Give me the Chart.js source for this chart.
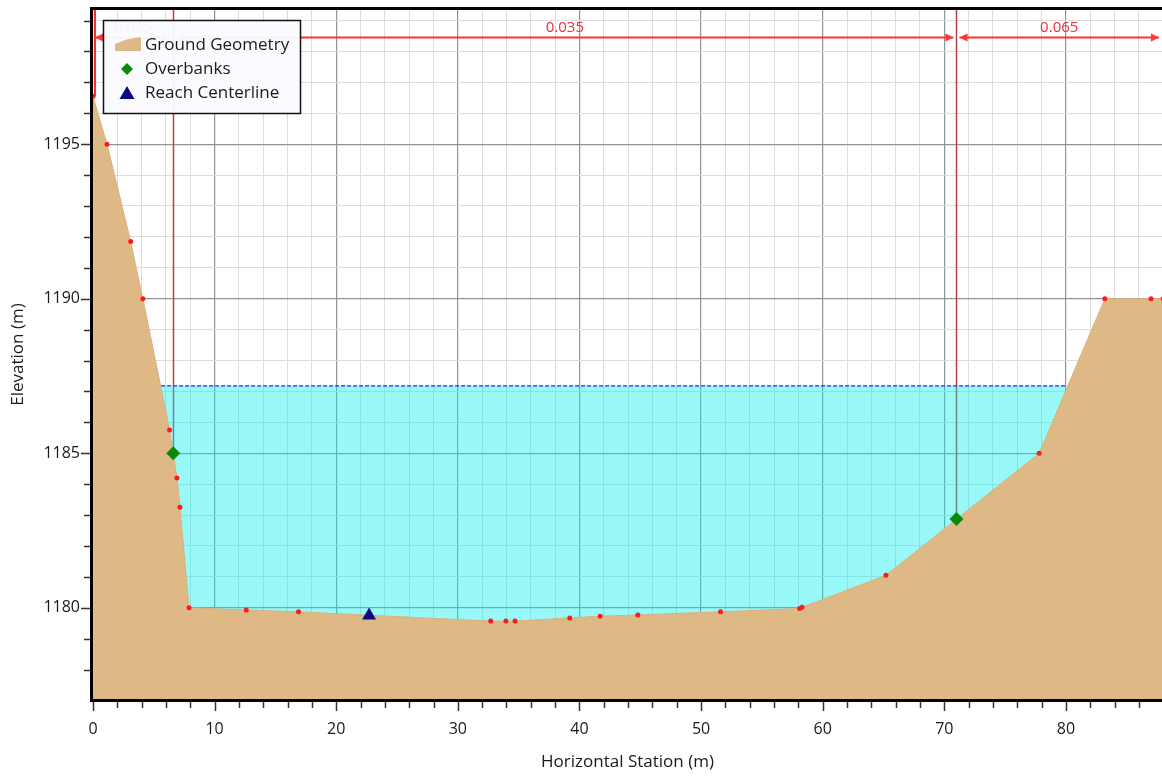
<!DOCTYPE html>
<html lang="en">
<head>
  <meta charset="UTF-8" />
  <title>Cross Section</title>
  <script src="https://cdn.jsdelivr.net/npm/chart.js"></script>
  <style>
    html, body { margin: 0; padding: 0; background: #fff; }
    #wrap { width: 1162px; height: 777px; }
  </style>
</head>
<body>
  <div id="wrap"><canvas id="xsChart" width="1162" height="777"></canvas></div>

<script>
  // ground survey points (station m, elevation m)
  const groundStations   = [0, 1.15, 3.1, 4.1, 6.3, 6.9, 7.15, 7.9, 12.6, 16.9, 32.7, 33.95, 34.7, 39.2, 41.7, 44.8, 51.6, 58.1, 58.3, 65.2, 77.8, 83.2, 87.0, 88.0];
  const groundElevations = [1196.55, 1195.0, 1191.85, 1190.0, 1185.75, 1184.2, 1183.25, 1180.0, 1179.93, 1179.87, 1179.57, 1179.57, 1179.57, 1179.67, 1179.73, 1179.77, 1179.87, 1179.98, 1180.02, 1181.05, 1185.0, 1190.0, 1190.0, 1190.0];

  const overbankStations   = [6.6, 71.0];
  const overbankElevations = [1185.0, 1182.87];

  const centerlineStation   = [22.7];
  const centerlineElevation = [1179.75];

  // water surface
  const waterStations   = [5.6, 80.0];
  const waterElevations = [1187.18, 1187.18];

  // Manning's n regions
  const nStations = [0, 6.6, 71.0, 88.0];
  const nValues   = ['0.035', '0.035', '0.065'];

  const xMin = 0, xMax = 87.9;
  const yMin = 1177.05, yMax = 1199.34;

  const toPts = (xs, ys) => xs.map((x, i) => ({ x: x, y: ys[i] }));

  function groundAt(s) {
    for (let i = 1; i < groundStations.length; i++) {
      if (s <= groundStations[i]) {
        const s0 = groundStations[i - 1], s1 = groundStations[i];
        const t = (s - s0) / (s1 - s0);
        return groundElevations[i - 1] + t * (groundElevations[i] - groundElevations[i - 1]);
      }
    }
    return groundElevations[groundElevations.length - 1];
  }

  Chart.defaults.font.family = "'Open Sans', sans-serif";
  Chart.defaults.font.size = 16;
  Chart.defaults.color = '#1a1a1a';

  const xsOverlay = {
    id: 'xsOverlay',
    beforeDatasetsDraw(chart) {
      const { ctx, chartArea, scales: { x, y } } = chart;
      ctx.save();
      // bank / n-value break lines
      for (let i = 0; i < nStations.length - 1; i++) {
        const px = Math.round(x.getPixelForValue(nStations[i])) + 0.5;
        const bottom = y.getPixelForValue(groundAt(nStations[i]));
        ctx.strokeStyle = i === 0 ? '#ff2a2a' : '#b84040';
        ctx.lineWidth = i === 0 ? 2 : 1.5;
        ctx.beginPath();
        ctx.moveTo(i === 0 ? px + 1.5 : px, chartArea.top);
        ctx.lineTo(i === 0 ? px + 1.5 : px, bottom);
        ctx.stroke();
      }
      ctx.restore();
    },
    afterDraw(chart) {
      const { ctx, chartArea, scales: { x, y } } = chart;
      ctx.save();

      // n-value arrows
      const ay = chartArea.top + 27.5;
      ctx.strokeStyle = '#ff3535';
      ctx.fillStyle = '#ff3535';
      ctx.lineWidth = 2;
      for (let i = 0; i < nValues.length; i++) {
        let x0 = x.getPixelForValue(nStations[i]) + (i === 0 ? 2 : 3);
        let x1 = Math.min(x.getPixelForValue(nStations[i + 1]), chartArea.right) - 3;
        ctx.beginPath();
        ctx.moveTo(x0, ay);
        ctx.lineTo(x1, ay);
        ctx.stroke();
        ctx.beginPath();
        ctx.moveTo(x0, ay); ctx.lineTo(x0 + 8, ay - 4); ctx.lineTo(x0 + 8, ay + 4); ctx.closePath();
        ctx.fill();
        ctx.beginPath();
        ctx.moveTo(x1, ay); ctx.lineTo(x1 - 8, ay - 4); ctx.lineTo(x1 - 8, ay + 4); ctx.closePath();
        ctx.fill();
      }
      ctx.font = "15px 'Open Sans', sans-serif";
      ctx.textAlign = 'center';
      ctx.textBaseline = 'middle';
      ctx.fillStyle = '#e8303a';
      for (let i = 0; i < nValues.length; i++) {
        const l = x.getPixelForValue(nStations[i]);
        const r = Math.min(x.getPixelForValue(nStations[i + 1]), chartArea.right);
        ctx.fillText(nValues[i], (l + r) / 2, ay - 10);
      }

      // frame
      ctx.strokeStyle = '#000';
      ctx.lineWidth = 3;
      ctx.beginPath();
      ctx.moveTo(chartArea.left - 1.5, chartArea.bottom + 3);
      ctx.lineTo(chartArea.left - 1.5, chartArea.top - 1.5);
      ctx.lineTo(chartArea.right, chartArea.top - 1.5);
      ctx.moveTo(chartArea.left - 3, chartArea.bottom + 1.5);
      ctx.lineTo(chartArea.right, chartArea.bottom + 1.5);
      ctx.stroke();

      // tick marks
      ctx.strokeStyle = '#333';
      ctx.lineWidth = 1.5;
      x.ticks.forEach(t => {
        const px = Math.round(x.getPixelForValue(t.value)) + 0.5;
        const len = t.value % 10 === 0 ? 9 : 6;
        ctx.beginPath();
        ctx.moveTo(px, chartArea.bottom + 3);
        ctx.lineTo(px, chartArea.bottom + 3 + len);
        ctx.stroke();
      });
      y.ticks.forEach(t => {
        const py = Math.round(y.getPixelForValue(t.value)) + 0.5;
        const len = Math.round(t.value) % 5 === 0 ? 9 : 6;
        ctx.beginPath();
        ctx.moveTo(chartArea.left - 3, py);
        ctx.lineTo(chartArea.left - 3 - len, py);
        ctx.stroke();
      });

      // legend box
      const lx = chartArea.left + 10, ly = chartArea.top + 10;
      ctx.fillStyle = 'rgba(250,250,255,0.97)';
      ctx.fillRect(lx, ly, 197, 93);
      ctx.strokeStyle = '#111';
      ctx.lineWidth = 1.5;
      ctx.strokeRect(lx + 0.5, ly + 0.5, 197, 93);

      const ix = lx + 24, tx = lx + 42;
      const rows = [ly + 25, ly + 49, ly + 73];
      // ground icon
      ctx.fillStyle = '#dfb985';
      ctx.beginPath();
      ctx.moveTo(ix - 12, rows[0] + 6);
      ctx.lineTo(ix + 14, rows[0] + 6);
      ctx.lineTo(ix + 14, rows[0] - 8);
      ctx.lineTo(ix + 1, rows[0] - 6);
      ctx.lineTo(ix - 12, rows[0] - 1);
      ctx.closePath();
      ctx.fill();
      // overbank icon
      ctx.fillStyle = '#0a8a0a';
      ctx.beginPath();
      ctx.moveTo(ix, rows[1] - 6);
      ctx.lineTo(ix + 6, rows[1]);
      ctx.lineTo(ix, rows[1] + 6);
      ctx.lineTo(ix - 6, rows[1]);
      ctx.closePath();
      ctx.fill();
      // centerline icon
      ctx.fillStyle = '#0a0a80';
      ctx.beginPath();
      ctx.moveTo(ix, rows[2] - 7);
      ctx.lineTo(ix + 7.5, rows[2] + 6);
      ctx.lineTo(ix - 7.5, rows[2] + 6);
      ctx.closePath();
      ctx.fill();

      ctx.fillStyle = '#1a1a1a';
      ctx.font = "17px 'Open Sans', sans-serif";
      ctx.textAlign = 'left';
      ctx.textBaseline = 'middle';
      ['Ground Geometry', 'Overbanks', 'Reach Centerline'].forEach((s, i) => ctx.fillText(s, tx, rows[i]));

      ctx.restore();
    }
  };

  const ctx = document.getElementById('xsChart').getContext('2d');
  const xsChart = new Chart(ctx, {
    type: 'scatter',
    data: {
      datasets: [
        {
          label: 'Reach Centerline',
          data: toPts(centerlineStation, centerlineElevation),
          pointStyle: 'triangle',
          pointRadius: 8,
          pointBackgroundColor: '#0a0a80',
          pointBorderColor: '#0a0a80',
          pointBorderWidth: 0
        },
        {
          label: 'Overbanks',
          data: toPts(overbankStations, overbankElevations),
          pointStyle: 'rectRot',
          pointRadius: 7,
          pointBackgroundColor: '#0a8a0a',
          pointBorderColor: '#0a8a0a',
          pointBorderWidth: 0
        },
        {
          label: 'Ground Geometry',
          data: toPts(groundStations, groundElevations),
          showLine: true,
          fill: 'start',
          backgroundColor: '#dfb985',
          borderColor: '#d9b07c',
          borderWidth: 1,
          pointRadius: 2.5,
          pointBackgroundColor: '#ff1a1a',
          pointBorderWidth: 0
        },
        {
          label: 'Water Surface',
          data: toPts(waterStations, waterElevations),
          showLine: true,
          fill: 'start',
          backgroundColor: 'rgba(0, 240, 240, 0.4)',
          borderColor: '#1030ff',
          borderWidth: 1.2,
          borderDash: [4, 2],
          pointRadius: 0
        }
      ]
    },
    options: {
      responsive: false,
      animation: false,
      layout: { autoPadding: false, padding: { top: 10, right: 0, left: 0, bottom: 0 } },
      plugins: {
        legend: { display: false },
        tooltip: { enabled: false }
      },
      scales: {
        x: {
          type: 'linear',
          min: xMin,
          max: xMax,
          border: { display: false },
          afterFit: s => { s.height = 78; s.paddingLeft = 0; s.paddingRight = 0; },
          ticks: {
            stepSize: 2,
            includeBounds: false,
            padding: 21,
            maxRotation: 0,
            autoSkip: false,
            callback: v => (v % 10 === 0 ? v : '')
          },
          grid: {
            drawTicks: false,
            color: c => (c.tick && c.tick.value % 10 === 0 ? '#939393' : '#dddddd'),
            lineWidth: c => (c.tick && c.tick.value % 10 === 0 ? 1.2 : 1)
          },
          title: {
            display: true,
            text: 'Horizontal Station (m)',
            font: { size: 17 },
            padding: { top: 0, bottom: 5 }
          }
        },
        y: {
          type: 'linear',
          min: yMin,
          max: yMax,
          border: { display: false },
          afterFit: s => { s.width = 93; s.paddingTop = 0; s.paddingBottom = 0; },
          ticks: {
            stepSize: 1,
            includeBounds: false,
            padding: 13,
            autoSkip: false,
            callback: v => (Math.round(v) % 5 === 0 ? Math.round(v) : '')
          },
          grid: {
            drawTicks: false,
            color: c => (c.tick && Math.round(c.tick.value) % 5 === 0 ? '#939393' : '#dddddd'),
            lineWidth: c => (c.tick && Math.round(c.tick.value) % 5 === 0 ? 1.2 : 1)
          },
          title: {
            display: true,
            text: 'Elevation (m)',
            font: { size: 17 },
            padding: { top: 8, bottom: 0 }
          }
        }
      }
    },
    plugins: [xsOverlay]
  });
</script>
</body>
</html>
